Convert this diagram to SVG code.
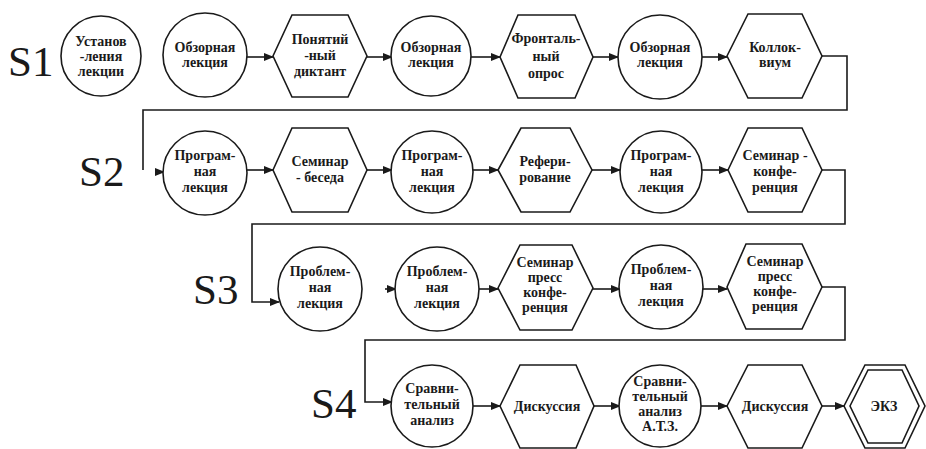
<svg xmlns="http://www.w3.org/2000/svg" width="926" height="449" viewBox="0 0 926 449">
  <defs>
    <marker id="arrow" markerWidth="10" markerHeight="8" refX="9" refY="4" orient="auto" markerUnits="userSpaceOnUse">
      <path d="M0,0 L10,4 L0,8 Z" fill="#1a1a1a"/>
    </marker>
  </defs>
  <style>
    .n { fill: #ffffff; stroke: #1a1a1a; stroke-width: 1.6; }
    .t { font-family: "Liberation Serif", "Times New Roman", serif; font-weight: bold; font-size: 14px; fill: #1a1a1a; text-anchor: middle; }
    .s { font-family: "Liberation Serif", "Times New Roman", serif; font-size: 43px; fill: #1a1a1a; }
    .c { fill: none; stroke: #1a1a1a; stroke-width: 1.6; marker-end: url(#arrow); }
    .w { fill: none; stroke: #1a1a1a; stroke-width: 1.6; }
  </style>

  <rect width="926" height="449" fill="#ffffff"/>

  <!-- stage labels -->
  <g id="stage-labels">
    <text class="s" x="8" y="76">S1</text>
    <text class="s" x="79" y="186">S2</text>
    <text class="s" x="193" y="304">S3</text>
    <text class="s" x="311" y="418">S4</text>
  </g>

  <!-- connectors -->
  <g id="connectors">
    <!-- row 1 -->
    <path class="c" d="M247,57 H273"/>
    <path class="c" d="M367,57 H392"/>
    <path class="c" d="M471,57 H500"/>
    <path class="c" d="M593,57 H618"/>
    <path class="c" d="M702,57 H727"/>
    <!-- row 1 to row 2 -->
    <path class="w" d="M822,56 H847 V110 H143 V170"/>
    <path class="c" d="M155,172 H164"/>
    <!-- row 2 -->
    <path class="c" d="M247,170 H273"/>
    <path class="c" d="M367,170 H392"/>
    <path class="c" d="M473,170 H498"/>
    <path class="c" d="M592,170 H620"/>
    <path class="c" d="M702,170 H728"/>
    <!-- row 2 to row 3 -->
    <path class="c" d="M822,170 H845 V224 H252 V302 H279"/>
    <!-- row 3 -->
    <path class="c" d="M385,289 H396"/>
    <path class="c" d="M479,289 H498"/>
    <path class="c" d="M592,289 H620"/>
    <path class="c" d="M702,289 H727"/>
    <!-- row 3 to row 4 -->
    <path class="c" d="M822,287 H845 V340 H365 V402 H392"/>
    <!-- row 4 -->
    <path class="c" d="M473,406 H500"/>
    <path class="c" d="M594,406 H620"/>
    <path class="c" d="M701,406 H727"/>
    <path class="c" d="M822,406 H844"/>
  </g>

  <!-- row 1 -->
  <g id="s1-n1">
    <circle class="n" cx="101" cy="56" r="40"/>
    <text class="t" x="101" y="46">Установ</text>
    <text class="t" x="101" y="61">-ления</text>
    <text class="t" x="101" y="76">лекции</text>
  </g>
  <g id="s1-n2">
    <circle class="n" cx="205" cy="55" r="42"/>
    <text class="t" x="205" y="52">Обзорная</text>
    <text class="t" x="205" y="67">лекция</text>
  </g>
  <g id="s1-n3">
    <polygon class="n" points="273,56 292,15 348,15 367,56 348,97 292,97"/>
    <text class="t" x="320" y="44">Понятий</text>
    <text class="t" x="320" y="60">-ный</text>
    <text class="t" x="320" y="76">диктант</text>
  </g>
  <g id="s1-n4">
    <circle class="n" cx="431" cy="56" r="40"/>
    <text class="t" x="431" y="52">Обзорная</text>
    <text class="t" x="431" y="67">лекция</text>
  </g>
  <g id="s1-n5">
    <polygon class="n" points="500,57 518,15 575,15 593,57 575,98 518,98"/>
    <text class="t" x="546" y="43">Фронталь-</text>
    <text class="t" x="546" y="61">ный</text>
    <text class="t" x="546" y="78">опрос</text>
  </g>
  <g id="s1-n6">
    <circle class="n" cx="660" cy="57" r="42"/>
    <text class="t" x="660" y="52">Обзорная</text>
    <text class="t" x="660" y="67">лекция</text>
  </g>
  <g id="s1-n7">
    <polygon class="n" points="727,56 748,14 802,14 822,56 802,98 748,98"/>
    <text class="t" x="775" y="52">Коллок-</text>
    <text class="t" x="775" y="67">виум</text>
  </g>

  <!-- row 2 -->
  <g id="s2-n1">
    <circle class="n" cx="205" cy="173" r="42"/>
    <text class="t" x="205" y="160">Програм-</text>
    <text class="t" x="205" y="176">ная</text>
    <text class="t" x="205" y="192">лекция</text>
  </g>
  <g id="s2-n2">
    <polygon class="n" points="273,170 292,128 348,128 367,170 348,212 292,212"/>
    <text class="t" x="320" y="166">Семинар</text>
    <text class="t" x="320" y="182">- беседа</text>
  </g>
  <g id="s2-n3">
    <circle class="n" cx="432" cy="172" r="41"/>
    <text class="t" x="432" y="160">Програм-</text>
    <text class="t" x="432" y="176">ная</text>
    <text class="t" x="432" y="192">лекция</text>
  </g>
  <g id="s2-n4">
    <polygon class="n" points="498,170 521,128 570,128 592,170 570,212 521,212"/>
    <text class="t" x="545" y="166">Рефери-</text>
    <text class="t" x="545" y="182">рование</text>
  </g>
  <g id="s2-n5">
    <circle class="n" cx="661" cy="172" r="41"/>
    <text class="t" x="661" y="160">Програм-</text>
    <text class="t" x="661" y="176">ная</text>
    <text class="t" x="661" y="192">лекция</text>
  </g>
  <g id="s2-n6">
    <polygon class="n" points="728,170 748,128 802,128 822,170 802,212 748,212"/>
    <text class="t" x="775" y="160">Семинар -</text>
    <text class="t" x="775" y="176">конфе-</text>
    <text class="t" x="775" y="192">ренция</text>
  </g>

  <!-- row 3 -->
  <g id="s3-n1">
    <circle class="n" cx="320" cy="289" r="42"/>
    <text class="t" x="320" y="276">Проблем-</text>
    <text class="t" x="320" y="292">ная</text>
    <text class="t" x="320" y="308">лекция</text>
  </g>
  <g id="s3-n2">
    <circle class="n" cx="437" cy="289" r="42"/>
    <text class="t" x="437" y="276">Проблем-</text>
    <text class="t" x="437" y="292">ная</text>
    <text class="t" x="437" y="308">лекция</text>
  </g>
  <g id="s3-n3">
    <polygon class="n" points="498,288 520,245 572,245 593,288 572,330 520,330"/>
    <text class="t" x="545" y="267">Семинар</text>
    <text class="t" x="545" y="282">пресс</text>
    <text class="t" x="545" y="297">конфе-</text>
    <text class="t" x="545" y="312">ренция</text>
  </g>
  <g id="s3-n4">
    <circle class="n" cx="661" cy="287" r="42"/>
    <text class="t" x="661" y="274">Проблем-</text>
    <text class="t" x="661" y="290">ная</text>
    <text class="t" x="661" y="306">лекция</text>
  </g>
  <g id="s3-n5">
    <polygon class="n" points="727,287 746,244 802,244 822,287 802,329 746,329"/>
    <text class="t" x="775" y="266">Семинар</text>
    <text class="t" x="775" y="281">пресс</text>
    <text class="t" x="775" y="296">конфе-</text>
    <text class="t" x="775" y="311">ренция</text>
  </g>

  <!-- row 4 -->
  <g id="s4-n1">
    <circle class="n" cx="432" cy="406" r="41"/>
    <text class="t" x="432" y="393">Сравни-</text>
    <text class="t" x="432" y="409">тельный</text>
    <text class="t" x="432" y="425">анализ</text>
  </g>
  <g id="s4-n2">
    <polygon class="n" points="500,406 520,365 576,365 594,406 576,448 520,448"/>
    <text class="t" x="547" y="411">Дискуссия</text>
  </g>
  <g id="s4-n3">
    <circle class="n" cx="660" cy="406" r="41"/>
    <text class="t" x="660" y="386">Сравни-</text>
    <text class="t" x="660" y="401">тельный</text>
    <text class="t" x="660" y="416">анализ</text>
    <text class="t" x="660" y="431">А.Т.З.</text>
  </g>
  <g id="s4-n4">
    <polygon class="n" points="727,406 748,365 802,365 822,406 802,448 748,448"/>
    <text class="t" x="775" y="411">Дискуссия</text>
  </g>
  <g id="s4-exam">
    <polygon class="n" points="844,406 865,365 905,365 925,406 905,448 865,448"/>
    <polygon class="n" points="850,406 868,370 902,370 919,406 902,443 868,443"/>
    <text class="t" x="884" y="411">ЭКЗ</text>
  </g>
</svg>
